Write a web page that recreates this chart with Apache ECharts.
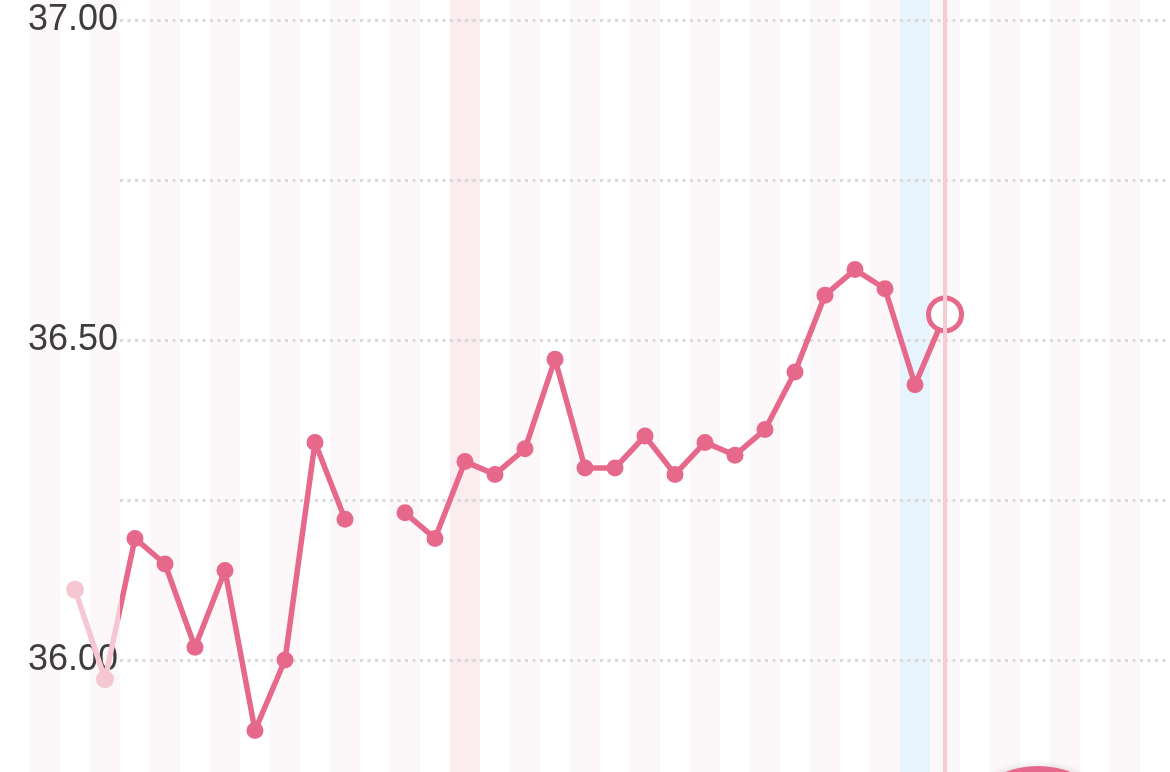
<!DOCTYPE html>
<html>
<head>
<meta charset="utf-8">
<script src="https://cdn.jsdelivr.net/npm/echarts@6/dist/echarts.min.js"></script>
<style>
html,body{margin:0;padding:0;background:#fff;}
#chart{width:1170px;height:772px;}
</style>
</head>
<body>
<div id="chart"></div>
<script>
// Categories (days), 39 bands across the view
var categories = [];
for (var i = 1; i <= 39; i++) categories.push(String(i));

// Temperature readings (null = no reading)
var temps = [null, null, 36.11, 35.97, 36.19, 36.15, 36.02, 36.14, 35.89, 36.00,
  36.34, 36.22, null, 36.23, 36.19, 36.31, 36.29, 36.33, 36.47, 36.30,
  36.30, 36.35, 36.29, 36.34, 36.32, 36.36, 36.45, 36.57, 36.61, 36.58,
  36.43, 36.54];

// Readings drawn faded (outside the current cycle)
var fadedDays = ['3', '4'];

// Highlighted day bands
var pinkDay = '16';
var blueDay = '31';
var todayDay = '32';

// Tick labels
var yMin = 35.75, yMax = 37.00, yStep = 0.25;
var labelTicks = ['36.00', '36.50', '37.00'];

var lineColor = '#e6698b';
var fadedColor = '#f4c7d2';
var fadeEdgeX = 120;

var chart = echarts.init(document.getElementById('chart'));

var lineData = temps.map(function (v, i) {
  if (v === null) return v;
  if (i === temps.length - 1) {
    return { value: v, symbol: 'circle', symbolSize: 33,
      itemStyle: { color: '#ffffff', borderColor: lineColor, borderWidth: 5 } };
  }
  if (fadedDays.indexOf(categories[i]) >= 0) {
    return { value: v, symbolSize: 18, itemStyle: { color: fadedColor } };
  }
  return v;
});

var bandData = categories.map(function (c) {
  if (c === pinkDay) return { value: yMax + 1, itemStyle: { color: '#fbecef' } };
  if (c === blueDay) return { value: yMax + 1, itemStyle: { color: '#e8f4fd' } };
  return null;
});

var edge = fadeEdgeX / 1170;

var option = {
  animation: false,
  backgroundColor: '#ffffff',
  grid: [
    { left: 0, right: 0, top: 0, height: 820, outerBoundsMode: 'none', containLabel: false },
    { left: 120, right: 4, top: 20, height: 800, outerBoundsMode: 'none', containLabel: false }
  ],
  xAxis: [
    {
      gridIndex: 0, type: 'category', data: categories, boundaryGap: true, z: 0,
      axisLine: { show: false }, axisTick: { show: false }, axisLabel: { show: false },
      splitLine: { show: false },
      splitArea: { show: true, interval: 0, areaStyle: { color: ['rgba(255,255,255,0)', '#fcf8f9'] } }
    },
    {
      gridIndex: 1, type: 'category', data: categories, show: false
    }
  ],
  yAxis: [
    {
      gridIndex: 0, type: 'value', min: yMin, max: yMin + 820 / 640, show: false,
      splitLine: { show: false }
    },
    {
      gridIndex: 1, type: 'value', min: yMin, max: yMax, interval: yStep, z: 2,
      axisLine: { show: false }, axisTick: { show: false },
      axisLabel: {
        margin: 2, fontSize: 36, color: '#3d3d3d', fontFamily: 'Liberation Sans',
        formatter: function (v) {
          var s = v.toFixed(2);
          return labelTicks.indexOf(s) >= 0 ? s : '';
        }
      },
      splitLine: { show: true, lineStyle: { color: '#d9d9d9', width: 3, type: [3, 4.5] } }
    }
  ],
  series: [
    {
      type: 'bar', xAxisIndex: 0, yAxisIndex: 0, data: bandData,
      barWidth: '100%', barGap: '0%', barCategoryGap: '0%', silent: true, z: 1,
      markLine: {
        silent: true, symbol: 'none', label: { show: false },
        lineStyle: { color: '#f6ccd3', width: 4, type: 'solid' },
        data: [{ xAxis: todayDay }]
      }
    },
    {
      type: 'line', xAxisIndex: 0, yAxisIndex: 0, data: lineData,
      symbol: 'circle', symbolSize: 17, connectNulls: false, z: 3,
      itemStyle: { color: lineColor, borderWidth: 0 },
      lineStyle: {
        width: 5.5,
        color: {
          type: 'linear', x: 0, y: 0, x2: 1170, y2: 0, global: true,
          colorStops: [
            { offset: 0, color: fadedColor },
            { offset: edge, color: fadedColor },
            { offset: edge, color: lineColor },
            { offset: 1, color: lineColor }
          ]
        }
      }
    }
  ],
  graphic: [
    {
      type: 'circle', shape: { cx: 1038, cy: 858, r: 92 },
      style: { fill: '#e6698b', shadowBlur: 8, shadowColor: 'rgba(0,0,0,0.15)' }, z: 100
    }
  ]
};
chart.setOption(option);
</script>
</body>
</html>
